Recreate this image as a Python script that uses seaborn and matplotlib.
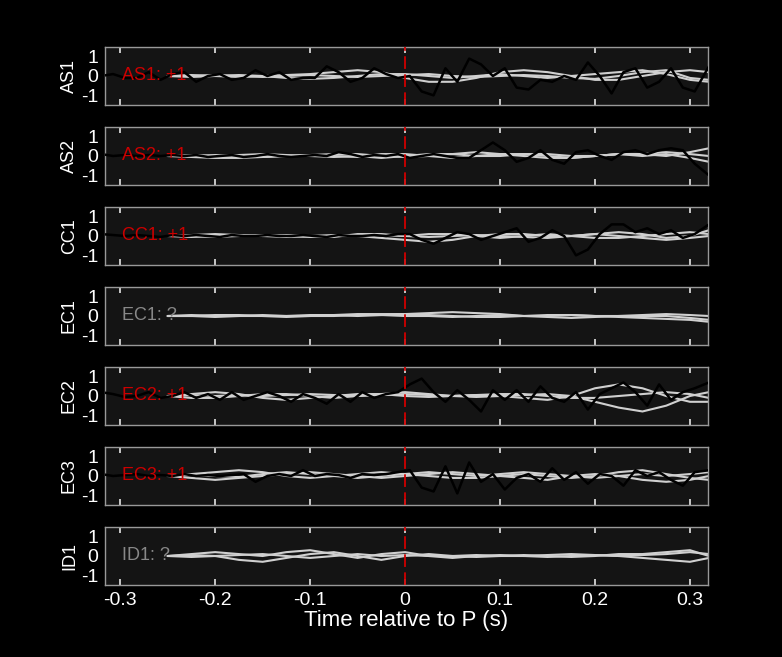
import numpy as np
import pandas as pd
import matplotlib
matplotlib.use("Agg")
import matplotlib.pyplot as plt
import seaborn as sns

sns.set_theme(style="dark")
plt.rcParams['font.family'] = ['Liberation Sans', 'DejaVu Sans']
plt.rcParams['axes.unicode_minus'] = False

stations = ["AS1", "AS2", "CC1", "EC1", "EC2", "EC3", "ID1"]
labels = ["AS1: +1", "AS2: +1", "CC1: +1", "EC1: ?", "EC2: +1", "EC3: +1", "ID1: ?"]
label_red = [True, True, True, False, True, True, False]

# black trace times (s)
t_black = [-0.32, -0.3075, -0.295, -0.2825, -0.27, -0.2575, -0.245, -0.2325, -0.22, -0.2075,
           -0.195, -0.1825, -0.17, -0.1575, -0.145, -0.1325, -0.12, -0.1075, -0.095, -0.0825,
           -0.07, -0.0575, -0.045, -0.0325, -0.02, -0.0075, 0.005, 0.0175, 0.03, 0.0425,
           0.055, 0.0675, 0.08, 0.0925, 0.105, 0.1175, 0.13, 0.1425, 0.155, 0.1675,
           0.18, 0.1925, 0.205, 0.2175, 0.23, 0.2425, 0.255, 0.2675, 0.28, 0.2925, 0.305, 0.32]

black = {
    "AS1": [0.0, 0.1, -0.1, -0.1, 0.2, -0.2, 0.1, 0.2, -0.3, 0.0, 0.1, -0.2, -0.1, 0.3,
            0.0, 0.2, -0.2, -0.1, -0.1, 0.5, 0.2, -0.3, -0.1, 0.4, 0.1, -0.1, 0.0, -0.8,
            -1.0, 0.4, -0.3, 0.9, 0.6, 0.0, 0.4, -0.6, -0.7, -0.2, -0.3, 0.0, -0.2,
            0.7, 0.0, -0.9, 0.2, 0.4, -0.6, -0.3, 0.4, -0.6, -0.8, 0.5],
    "AS2": [0.1, 0.0, 0.05, 0.0, 0.05, 0.0, 0.05, 0.0, 0.05, -0.05, 0.0, 0.05, -0.05, 0.0,
            0.1, 0.0, -0.05, 0.0, 0.05, 0.0, 0.2, 0.1, -0.05, 0.05, 0.0, 0.1, -0.1, 0.0,
            0.1, 0.0, -0.1, -0.1, 0.3, 0.7, 0.3, -0.3, -0.1, 0.3, -0.2, -0.4, 0.2,
            0.3, 0.0, -0.2, 0.2, 0.3, 0.1, 0.3, 0.4, 0.3, -0.4, -1.0],
    "CC1": [0.1, 0.05, 0.0, 0.05, 0.0, -0.05, 0.05, 0.0, 0.05, 0.0, -0.05, 0.05, 0.0, 0.0,
            0.05, 0.0, 0.0, 0.05, 0.0, -0.05, 0.05, 0.0, 0.0, 0.05, 0.0, 0.1, 0.1, -0.2,
            -0.4, -0.1, 0.2, 0.1, -0.2, 0.0, 0.2, 0.4, -0.3, -0.1, 0.3, 0.0, -1.0,
            -0.7, 0.1, 0.6, 0.6, 0.2, 0.4, 0.1, 0.3, -0.1, 0.1, 0.6],
    "EC1": None,
    "EC2": [0.2, 0.1, -0.05, 0.0, 0.2, -0.1, 0.0, 0.2, -0.1, 0.1, -0.2, 0.2, -0.2, 0.0,
            0.2, 0.0, -0.3, 0.1, -0.1, -0.4, 0.1, -0.3, 0.2, -0.1, 0.1, 0.2, 0.6, 0.9,
            0.2, -0.3, 0.3, -0.2, -0.8, 0.3, -0.2, 0.3, -0.3, 0.5, -0.1, -0.3, 0.2,
            -0.7, 0.1, 0.4, 0.7, 0.2, -0.5, 0.6, -0.2, 0.2, 0.4, 0.7],
    "EC3": [0.1, 0.0, 0.05, 0.1, 0.0, 0.05, 0.0, 0.1, 0.0, 0.05, 0.0, 0.05, 0.1, -0.3,
            0.0, 0.1, 0.0, 0.3, 0.0, 0.1, 0.05, -0.1, 0.1, 0.05, 0.1, 0.2, 0.3, -0.6,
            -0.8, 0.5, -0.9, 0.7, -0.3, 0.1, -0.7, -0.1, 0.1, -0.3, 0.4, -0.2, 0.2,
            -0.4, 0.1, 0.0, -0.5, 0.3, 0.0, 0.2, -0.2, -0.5, 0.2, 0.3],
    "ID1": None,
}

# gray traces (many events) sampled every 0.025 s from -0.25
t_gray = [-0.25, -0.225, -0.2, -0.175, -0.15, -0.125, -0.1, -0.075, -0.05, -0.025, 0.0,
          0.025, 0.05, 0.075, 0.1, 0.125, 0.15, 0.175, 0.2, 0.225, 0.25, 0.275, 0.3, 0.32]

gray = {
    "AS1": [[0.0, 0.05, 0.0, -0.05, 0.0, 0.05, 0.1, 0.2, 0.3, 0.2, -0.1, -0.3, -0.3, -0.1, 0.2, 0.3, 0.2, 0.0, -0.2, -0.2, 0.0, 0.2, 0.3, 0.2],
            [0.0, -0.05, 0.0, 0.05, 0.0, -0.1, -0.15, -0.1, 0.0, 0.1, 0.1, 0.0, -0.1, 0.0, 0.1, 0.0, -0.1, 0.0, 0.1, 0.2, 0.3, 0.1, -0.2, -0.3],
            [0.0, 0.0, 0.05, 0.0, -0.05, 0.0, 0.05, 0.0, -0.05, 0.0, 0.05, 0.1, 0.0, -0.05, 0.0, 0.05, 0.0, -0.1, -0.15, 0.0, 0.2, 0.3, -0.1, -0.2]],
    "AS2": [[0.0, -0.05, -0.1, -0.1, -0.05, 0.0, 0.05, 0.1, 0.1, 0.0, -0.05, 0.0, 0.1, 0.2, 0.1, 0.0, -0.1, -0.1, 0.0, 0.1, 0.1, 0.0, 0.2, 0.4],
            [0.0, 0.0, 0.05, 0.0, -0.05, 0.0, 0.05, 0.0, -0.05, 0.1, 0.1, 0.0, -0.1, 0.0, 0.1, 0.1, 0.0, -0.1, 0.0, 0.1, 0.0, 0.1, -0.1, -0.3],
            [0.0, 0.05, 0.0, 0.05, 0.1, 0.05, 0.0, -0.05, 0.0, -0.1, 0.0, 0.1, 0.1, 0.0, 0.0, 0.1, 0.1, 0.0, 0.0, 0.1, 0.1, 0.2, 0.1, 0.0]],
    "CC1": [[0.0, 0.05, 0.1, 0.05, 0.0, -0.05, 0.0, 0.05, 0.0, -0.1, -0.2, -0.3, -0.2, 0.0, 0.1, 0.1, 0.0, 0.0, 0.1, 0.2, 0.1, -0.1, 0.0, 0.3],
            [0.0, -0.05, 0.0, 0.05, 0.0, 0.05, 0.0, -0.05, 0.1, 0.1, 0.0, 0.1, 0.1, 0.0, -0.1, 0.0, 0.1, 0.0, -0.1, -0.1, 0.0, 0.1, 0.2, 0.1],
            [0.0, 0.0, -0.05, 0.0, 0.05, 0.0, -0.05, 0.0, 0.0, 0.05, 0.0, -0.05, 0.0, 0.05, 0.0, -0.05, -0.1, 0.0, 0.1, 0.0, -0.1, -0.2, -0.1, 0.0]],
    "EC1": [[0.0, 0.0, 0.05, 0.05, 0.0, 0.0, 0.05, 0.05, 0.1, 0.1, 0.1, 0.15, 0.2, 0.15, 0.1, 0.0, -0.05, -0.1, -0.05, 0.0, 0.0, 0.0, -0.1, -0.2],
            [0.0, 0.0, -0.05, 0.0, 0.0, -0.05, 0.0, 0.0, 0.05, 0.05, 0.1, 0.05, 0.0, -0.05, -0.05, 0.0, 0.05, 0.05, 0.0, -0.05, -0.1, -0.15, -0.2, -0.3],
            [0.0, 0.05, 0.0, 0.0, 0.05, 0.0, 0.0, 0.05, 0.0, 0.05, 0.0, 0.0, -0.05, 0.0, 0.05, 0.0, 0.0, 0.05, 0.0, 0.0, 0.05, 0.1, 0.05, 0.0]],
    "EC2": [[0.0, 0.1, 0.2, 0.1, -0.1, -0.2, -0.1, 0.0, 0.1, 0.1, 0.0, -0.05, 0.0, 0.05, 0.0, -0.1, -0.2, 0.0, 0.4, 0.6, 0.4, 0.0, -0.3, -0.3],
            [0.0, -0.1, -0.1, 0.0, 0.1, 0.1, 0.0, -0.1, 0.0, 0.1, 0.2, 0.1, 0.0, -0.05, 0.0, 0.05, 0.1, 0.0, -0.3, -0.6, -0.8, -0.5, 0.0, 0.2],
            [0.0, 0.05, 0.0, 0.05, 0.0, 0.05, 0.1, 0.05, 0.0, 0.05, 0.1, 0.05, 0.0, 0.05, 0.1, 0.1, 0.0, -0.1, -0.1, 0.0, 0.1, 0.2, 0.1, -0.1]],
    "EC3": [[0.0, 0.1, 0.2, 0.3, 0.2, 0.0, -0.1, 0.0, 0.1, 0.2, 0.1, 0.0, -0.1, -0.1, 0.0, 0.1, 0.0, -0.1, 0.0, 0.2, 0.3, 0.1, -0.1, -0.2],
            [0.0, -0.1, -0.2, -0.1, 0.0, 0.1, 0.2, 0.1, 0.0, -0.1, 0.0, 0.1, 0.2, 0.1, 0.0, -0.1, -0.2, 0.0, 0.1, 0.0, -0.2, -0.3, -0.2, 0.0],
            [0.0, 0.05, 0.0, -0.05, 0.1, 0.2, 0.1, 0.0, -0.1, 0.0, 0.1, 0.2, 0.1, 0.0, 0.1, 0.2, 0.1, 0.0, -0.1, 0.0, 0.1, 0.0, 0.1, 0.2]],
    "ID1": [[0.0, 0.1, 0.2, 0.1, 0.0, 0.2, 0.3, 0.1, -0.1, 0.1, 0.2, 0.0, -0.1, 0.0, 0.05, 0.0, -0.05, 0.0, 0.05, 0.0, -0.1, -0.2, -0.3, -0.1],
            [0.0, -0.05, 0.0, -0.2, -0.3, -0.1, 0.1, 0.2, 0.0, -0.2, 0.0, 0.1, 0.0, -0.05, 0.0, 0.05, 0.0, -0.05, 0.0, 0.1, 0.1, 0.2, 0.3, 0.0],
            [0.0, 0.05, 0.0, 0.05, 0.1, 0.0, -0.1, 0.0, 0.1, 0.0, 0.05, 0.0, 0.0, 0.05, 0.0, 0.0, 0.05, 0.1, 0.05, 0.0, 0.05, 0.1, 0.2, 0.1]],
}

W, H = 782, 657
fig = plt.figure(figsize=(W / 100, H / 100), dpi=100, facecolor="black")
left, right = 105 / W, 708 / W
tops = [47 + 80 * i for i in range(7)]
ph = 58

for i, st in enumerate(stations):
    ax = fig.add_axes([left, 1 - (tops[i] + ph) / H, right - left, ph / H])
    ax.set_facecolor("#141414")
    for j, g in enumerate(gray[st]):
        df = pd.DataFrame({"t": t_gray, "v": g})
        sns.lineplot(data=df, x="t", y="v", ax=ax, color="#d0d0d0", lw=1.5, zorder=2)
    if black[st] is not None:
        df = pd.DataFrame({"t": t_black, "v": black[st]})
        sns.lineplot(data=df, x="t", y="v", ax=ax, color="black", lw=1.8, zorder=3)
    ax.axvline(0, color="#d00000", lw=1.3, ls=(0, (7, 3)), zorder=4)
    ax.text(-0.298, 0, labels[i], color="#cc0000" if label_red[i] else "#888888",
            fontsize=13, va="center", ha="left", zorder=5)
    ax.set_xlim(-0.316, 0.319)
    ax.set_ylim(-1.5, 1.5)
    ax.set_yticks([-1, 0, 1])
    ax.set_xticks([-0.3, -0.2, -0.1, 0, 0.1, 0.2, 0.3])
    ax.set_ylabel(st, color="white", fontsize=13, labelpad=2)
    ax.set_xlabel("")
    ax.tick_params(axis="both", direction="in", colors="#dddddd", labelcolor="white",
                   labelsize=13, length=4, top=True, bottom=True, left=False, right=False)
    ax.tick_params(axis="y", pad=5, labelsize=14)
    if i < 6:
        ax.set_xticklabels([])
    else:
        ax.set_xticklabels(["-0.3", "-0.2", "-0.1", "0", "0.1", "0.2", "0.3"])
        ax.tick_params(axis="x", labelsize=14, pad=5)
        ax.set_xlabel("Time relative to P (s)", color="white", fontsize=16, labelpad=1)
    ax.grid(False)
    for s in ax.spines.values():
        s.set_color("#999999")
        s.set_linewidth(1)

fig.savefig("out.png", dpi=100, facecolor="black")
